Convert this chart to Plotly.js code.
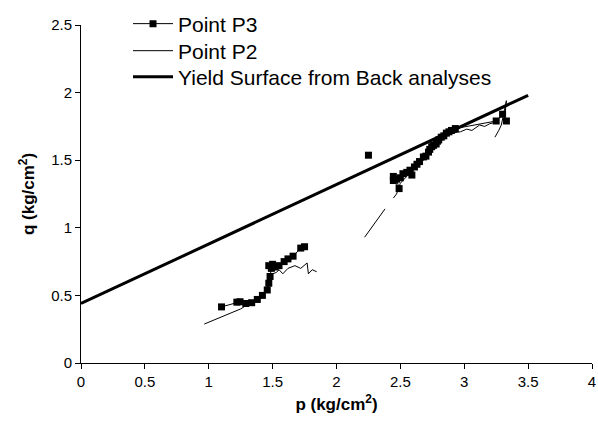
<!DOCTYPE html>
<html>
<head>
<meta charset="utf-8">
<script src="https://cdn.plot.ly/plotly-3.0.1.min.js"></script>
<style>html,body{margin:0;padding:0;background:#fff;}#chart{width:598px;height:423px;}</style>
</head>
<body>
<div id="chart"></div>
<script>
// Point P3 (markers + line); null = gap in data
const p3_p = [1.10, 1.22, 1.245, 1.29, 1.336, 1.38, 1.42, 1.458, 1.47, 1.48, 1.49, 1.47, 1.50, 1.52, 1.55, 1.59, 1.62, 1.66, 1.72, 1.75,
  null, 2.25, null,
  2.445, 2.445, 2.49, 2.47, 2.50, 2.52, 2.55, 2.575, 2.59, 2.61, 2.63, 2.65, 2.68, 2.70, 2.72, 2.73, 2.745, 2.76, 2.78, 2.79, 2.80, 2.82, 2.84, 2.86, 2.88, 2.90, 2.93,
  3.25, 3.30, 3.33];
const p3_q = [0.415, 0.45, 0.453, 0.44, 0.446, 0.47, 0.50, 0.54, 0.59, 0.64, 0.70, 0.72, 0.73, 0.71, 0.72, 0.75, 0.77, 0.79, 0.85, 0.86,
  null, 1.537, null,
  1.38, 1.35, 1.29, 1.36, 1.37, 1.40, 1.41, 1.426, 1.39, 1.45, 1.47, 1.49, 1.524, 1.53, 1.56, 1.58, 1.60, 1.61, 1.62, 1.64, 1.65, 1.67, 1.68, 1.70, 1.71, 1.72, 1.734,
  1.79, 1.84, 1.79];
// Point P2 (thin line)
const p2_p = [0.965, 1.05, 1.15, 1.20, 1.25, 1.30, 1.35, 1.40, 1.43, 1.45, 1.47, 1.48, 1.50, 1.53, 1.55, 1.58, 1.62, 1.675, 1.72, 1.77, 1.78, 1.81, 1.845,
  null, 2.22, 2.38, null, 2.445, 2.47,
  2.50, 2.55, 2.60, 2.65, 2.70, 2.75, 2.80, 2.85, 2.90, 2.97, 3.02, 3.06, 3.12, 3.16, 3.20, 3.24, 3.27, 3.30, 3.32, 3.33, 3.31, 3.29, 3.27, 3.24];
const p2_q = [0.288, 0.32, 0.36, 0.38, 0.40, 0.43, 0.45, 0.47, 0.50, 0.53, 0.58, 0.62, 0.66, 0.67, 0.69, 0.66, 0.70, 0.72, 0.70, 0.74, 0.66, 0.69, 0.675,
  null, 0.93, 1.14, null, 1.22, 1.25,
  1.33, 1.38, 1.43, 1.47, 1.52, 1.58, 1.63, 1.67, 1.70, 1.71, 1.73, 1.72, 1.76, 1.75, 1.77, 1.78, 1.81, 1.83, 1.845, 1.94, 1.84, 1.76, 1.72, 1.67];
// Yield surface from back analyses
const ys_p = [0, 3.5];
const ys_q = [0.44, 1.98];

const traces = [
  {x: p3_p, y: p3_q, name: 'Point P3', mode: 'lines+markers', connectgaps: false, legend: 'legend',
   line: {color: '#000', width: 1}, marker: {symbol: 'square', size: 7, color: '#000'}},
  {x: p2_p, y: p2_q, name: 'Point P2', mode: 'lines', connectgaps: false, legend: 'legend2',
   line: {color: '#000', width: 1}},
  {x: ys_p, y: ys_q, name: 'Yield Surface from Back analyses', mode: 'lines', legend: 'legend3',
   line: {color: '#000', width: 3}}
];

const font = {family: 'Liberation Sans, Arial, sans-serif', color: '#000'};
function leg(yc) {
  return {x: 0.092, y: yc, xanchor: 'left', yanchor: 'middle', itemwidth: 40,
          font: Object.assign({size: 21}, font), bgcolor: 'rgba(0,0,0,0)'};
}
const layout = {
  width: 598, height: 423,
  margin: {l: 81, r: 6, t: 25, b: 60, autoexpand: false},
  paper_bgcolor: '#fff', plot_bgcolor: '#fff',
  font: Object.assign({size: 15}, font),
  showlegend: true,
  legend: leg(1.003),
  legend2: leg(0.923),
  legend3: leg(0.846),
  xaxis: {range: [0, 4], dtick: 0.5, showgrid: false, zeroline: false, showline: true, linecolor: '#000', linewidth: 1,
          ticks: 'outside', ticklen: 5, tickcolor: '#000', tickfont: Object.assign({size: 15}, font),
          title: {text: '<b>p (kg/cm<sup>2</sup>)</b>', font: Object.assign({size: 17}, font), standoff: 9}},
  yaxis: {range: [0, 2.5], dtick: 0.5, showgrid: false, zeroline: false, showline: true, linecolor: '#000', linewidth: 1,
          ticks: 'outside', ticklen: 5, tickcolor: '#000', tickfont: Object.assign({size: 15}, font),
          title: {text: '<b>q (kg/cm<sup>2</sup>)</b>', font: Object.assign({size: 17}, font), standoff: 12}}
};
Plotly.newPlot('chart', traces, layout, {displayModeBar: false, staticPlot: true});
</script>
</body>
</html>
